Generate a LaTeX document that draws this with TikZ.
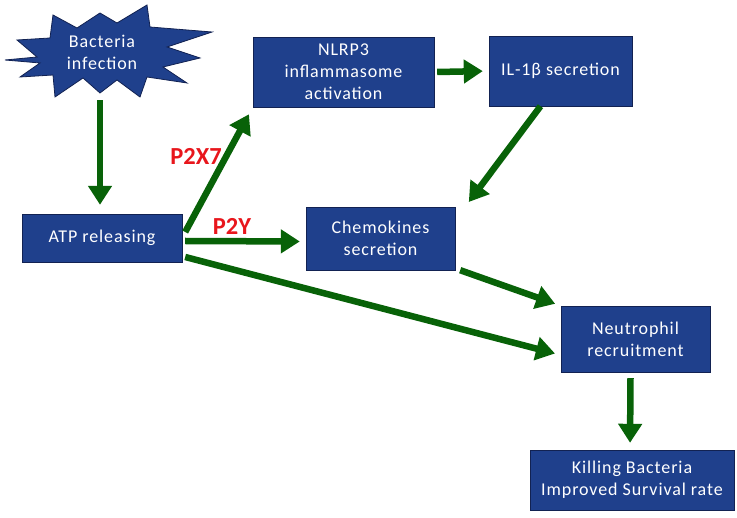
\documentclass[tikz,border=0pt]{standalone}
\usepackage{fontspec}
\setmainfont{Carlito}
\newfontfamily\boxfont[LetterSpace=5]{Carlito}
\usetikzlibrary{arrows.meta}
\definecolor{boxblue}{RGB}{31,64,140}
\definecolor{boxline}{RGB}{18,34,82}
\definecolor{arrgreen}{RGB}{8,98,8}
\definecolor{labred}{RGB}{232,22,28}

\begin{document}
\begin{tikzpicture}[x=1pt, y=-1pt, >={Triangle[length=19pt,width=23pt]},
  stepbox/.style={draw=boxline, fill=boxblue, text=white, align=center,
    font=\boxfont\fontsize{18}{22}\selectfont, inner sep=0pt},
  flow/.style={->, draw=arrgreen, line width=6.5pt},
  receptor/.style={text=labred, font=\fontsize{24.5}{25}\selectfont\bfseries}]
\useasboundingbox (0,0) rectangle (737,518);

% the starburst
\filldraw[fill=boxblue, draw=boxline, line width=0.8pt]
  (5,60) -- (37,57) -- (17,40) -- (50,38) -- (53,15) -- (77,28) -- (100,13)
  -- (117,23) -- (147,5) -- (150,27) -- (212,32) -- (167,47) -- (200,58)
  -- (163,67) -- (187,83) -- (147,77) -- (140,97) -- (117,80) -- (100,93)
  -- (83,78) -- (55,97) -- (53,75) -- (20,77) -- (40,63) -- cycle;
\node[text=white, align=center, font=\boxfont\fontsize{18}{22}\selectfont, minimum height=96pt]
  (burst) at (102,52) {Bacteria\\infection};

\node[stepbox, minimum width=160pt, minimum height=48pt]
  (atp) at (102,238) {ATP releasing};
\node[stepbox, minimum width=181pt, minimum height=70pt]
  (nlrp) at (343.5,72) {NLRP3\\inflammasome\\activation};
\node[stepbox, minimum width=143pt, minimum height=70pt]
  (il) at (560.5,71) {IL-1β secretion};
\node[stepbox, minimum width=149pt, minimum height=63pt]
  (chem) at (380.5,238.5) {Chemokines\\secretion};
\node[stepbox, minimum width=149pt, minimum height=66pt]
  (neut) at (635.5,339) {Neutrophil\\recruitment};
\node[stepbox, minimum width=204pt, minimum height=60pt]
  (kill) at (632,480) {Killing Bacteria\\Improved Survival rate};

\node[receptor] (p2x) at (196,156) {P2X7};
\node[receptor] (p2y) at (232,226) {P2Y};

\draw[flow, shorten >=9pt] ([xshift=-2pt]burst.south) -- ([xshift=-2pt]atp.north);
\draw[flow, shorten >=8pt] ([shift={(3pt,6pt)}]atp.east) -- (nlrp.south west);
\draw[flow, shorten >=6pt] ([shift={(3pt,-3pt)}]atp.east) -- ([yshift=-3pt]chem.west);
\draw[flow, shorten >=6pt] ([shift={(3pt,-19pt)}]atp.east) -- ([yshift=-16pt]neut.west);
\draw[flow, shorten >=6pt] ([xshift=3pt]nlrp.east) -- (il.west);
\draw[flow, shorten >=6pt] ([xshift=-20pt]il.south) -- ([xshift=10pt]chem.north east);
\draw[flow, shorten >=6pt] ([xshift=5pt]chem.south east) -- (neut.north west);
\draw[flow, shorten >=7pt] ([shift={(-5pt,-6pt)}]neut.south) -- ([xshift=-2pt]kill.north);
\end{tikzpicture}
\end{document}
